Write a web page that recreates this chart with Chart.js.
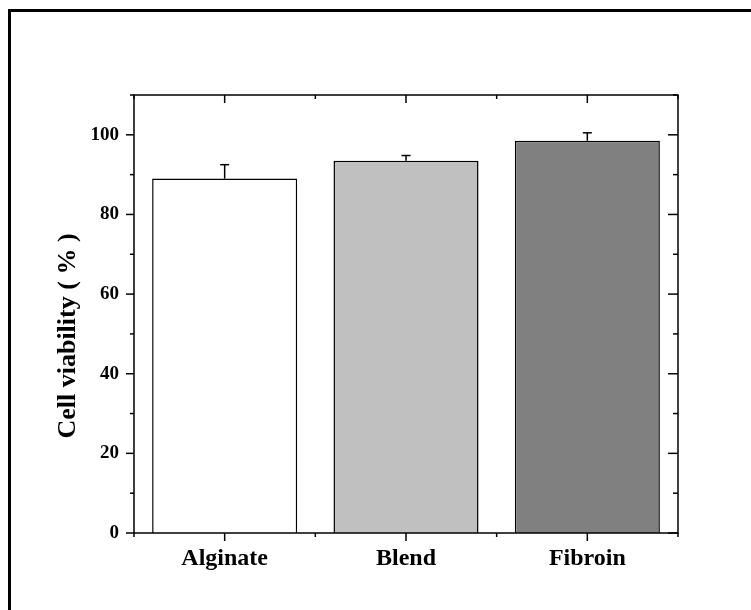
<!DOCTYPE html>
<html><head><meta charset="utf-8">
<script src="https://cdn.jsdelivr.net/npm/chart.js@4/dist/chart.umd.min.js"></script>
<style>
html,body{margin:0;padding:0;background:#fff;}
#wrap{position:relative;width:751px;height:610px;overflow:hidden;}
#frame{position:absolute;left:8px;top:9px;width:800px;height:700px;border-left:3px solid #000;border-top:3px solid #000;}
canvas{position:absolute;left:0;top:0;}
</style></head><body>
<div id="wrap"><div id="frame"></div><canvas id="c" width="751" height="610"></canvas></div>
<script>
const categories = ['Alginate', 'Blend', 'Fibroin'];
const viability = [89.0, 93.5, 98.5];
const errorUp = [3.5, 1.3, 2.0];
const barColors = ['#ffffff', '#c0c0c0', '#808080'];
const yTicks = [0, 20, 40, 60, 80, 100];
const yMinorTicks = [10, 30, 50, 70, 90, 110];
const yTitle = 'Cell viability ( % )';

const serif = 'Liberation Serif, Times New Roman, serif';

function seg(ctx, x1, y1, x2, y2) { ctx.beginPath(); ctx.moveTo(x1, y1); ctx.lineTo(x2, y2); ctx.stroke(); }

const framePlugin = {
  id: 'framePlugin',
  afterDatasetsDraw(chart) {
    const { ctx, chartArea: a, scales: { x, y } } = chart;
    const meta = chart.getDatasetMeta(0);
    ctx.save();
    ctx.strokeStyle = '#000';
    // error bars (upper only)
    ctx.lineWidth = 1.5;
    viability.forEach((v, i) => {
      const bx = meta.data[i].x;
      const yTop = y.getPixelForValue(v + errorUp[i]);
      const yBar = y.getPixelForValue(v);
      seg(ctx, bx, yBar, bx, yTop);
      seg(ctx, bx - 4.5, yTop, bx + 4.5, yTop);
    });
    // axes box
    ctx.lineWidth = 1.5;
    ctx.strokeRect(a.left, a.top, a.right - a.left, a.bottom - a.top);
    // y ticks
    yTicks.forEach(v => {
      const p = y.getPixelForValue(v);
      seg(ctx, a.left - 8, p, a.left, p);
      seg(ctx, a.right - 10, p, a.right, p);
    });
    yMinorTicks.forEach(v => {
      const p = y.getPixelForValue(v);
      seg(ctx, a.left - 4, p, a.left, p);
      seg(ctx, a.right - 5, p, a.right, p);
    });
    // x ticks
    categories.forEach((c, i) => {
      const p = x.getPixelForValue(i);
      seg(ctx, p, a.bottom, p, a.bottom + 8);
      seg(ctx, p, a.top, p, a.top + 8);
    });
    for (let i = 0; i <= categories.length; i++) {
      const p = x.getPixelForValue(i - 0.5);
      seg(ctx, p, a.bottom, p, a.bottom + 4);
      seg(ctx, p, a.top, p, a.top + 4);
    }
    // y axis title (Origin places it slightly below centre)
    ctx.fillStyle = '#000';
    ctx.font = 'bold 26px ' + serif;
    ctx.textAlign = 'center';
    ctx.textBaseline = 'middle';
    ctx.translate(a.left - 66, (a.top + a.bottom) / 2 + 22);
    ctx.rotate(-Math.PI / 2);
    ctx.fillText(yTitle, 0, 0);
    ctx.restore();
  }
};

new Chart(document.getElementById('c'), {
  type: 'bar',
  data: {
    labels: categories,
    datasets: [{
      data: viability,
      backgroundColor: barColors,
      borderColor: '#000',
      borderWidth: 1.5,
      barPercentage: 0.8,
      categoryPercentage: 1.0
    }]
  },
  options: {
    responsive: false,
    animation: false,
    devicePixelRatio: 1,
    layout: { padding: { top: 95, right: 73, left: 0, bottom: 0 } },
    plugins: { legend: { display: false }, tooltip: { enabled: false } },
    scales: {
      x: {
        offset: true,
        grid: { display: false },
        border: { display: false },
        ticks: { color: '#000', padding: 3, maxRotation: 0, font: { family: serif, size: 24, weight: 'bold' } },
        afterFit(s) { s.height = 77; }
      },
      y: {
        min: 0, max: 110,
        afterBuildTicks(s) { s.ticks = yTicks.map(v => ({ value: v })); },
        grid: { display: false },
        border: { display: false },
        ticks: { color: '#000', padding: 7, font: { family: serif, size: 19, weight: 'bold' } },
        title: { display: false },
        afterFit(s) { s.width = 134; }
      }
    }
  },
  plugins: [framePlugin]
});
</script>
</body></html>
